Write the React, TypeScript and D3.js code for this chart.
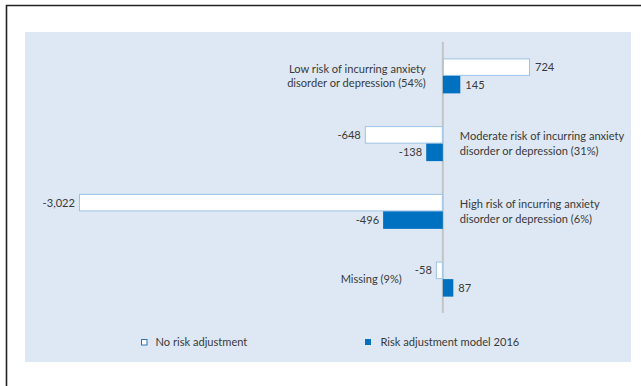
import React from "react";
import * as d3 from "d3";

const categories = ["low", "moderate", "high", "missing"];
const categoryLabels = [
  ["Low risk of incurring anxiety", "disorder or depression (54%)"],
  ["Moderate risk of incurring anxiety", "disorder or depression (31%)"],
  ["High risk of incurring anxiety", "disorder or depression (6%)"],
  ["Missing (9%)"],
];
const seriesNames = ["No risk adjustment", "Risk adjustment model 2016"];
const noAdjustment = [724, -648, -3022, -58];
const model2016 = [145, -138, -496, 87];

const W = 641;
const H = 386;
const FONT = "Lato, 'Liberation Sans', sans-serif";
const TEXT = "#3a3a3a";
const BLUE = "#0070c0";
const LIGHT = "#9dc3e6";
const FS = 11.1;

export default function App() {
  const x = d3.scaleLinear().domain([-3022, 724]).range([79, 530]);
  const y = d3.scaleBand<string>().domain(categories).range([42, 313]);
  const inner = d3
    .scaleBand<string>()
    .domain(seriesNames)
    .range([0, y.bandwidth()])
    .paddingInner(0)
    .paddingOuter(0.936);
  const fmt = (v: number) => d3.format(",")(v).replace("\u2212", "-");
  const x0 = x(0);
  const series = [noAdjustment, model2016];

  return (
    <svg
      width={W}
      height={H}
      style={{ position: "absolute", left: 0, top: 0, background: "#fff" }}
      fontFamily={FONT}
    >
      <line x1={6.5} y1={5} x2={6.5} y2={H} stroke="#222" strokeWidth={1.6} />
      <line x1={6} y1={5.5} x2={W} y2={5.5} stroke="#222" strokeWidth={1.6} />
      <rect x={25} y={32} width={606} height={330} fill="#dde8f4" />
      <line x1={x0} y1={42} x2={x0} y2={313} stroke="#c4c4c4" strokeWidth={2} />
      {categories.map((c, i) => (
        <g key={c}>
          {series.map((vals, s) => {
            const v = vals[i];
            const by = (y(c) as number) + (inner(seriesNames[s]) as number);
            const bh = inner.bandwidth();
            const bx = Math.min(x(v), x0);
            const bw = Math.abs(x(v) - x0);
            return (
              <g key={s}>
                <rect
                  x={bx + (s === 0 ? 0.5 : 0)}
                  y={by + (s === 0 ? 0.5 : 0)}
                  width={Math.max(bw - (s === 0 ? 1 : 0), 0)}
                  height={bh - (s === 0 ? 1 : 0)}
                  fill={s === 0 ? "#fff" : BLUE}
                  stroke={s === 0 ? LIGHT : "none"}
                  strokeWidth={1}
                />
                <text
                  x={v >= 0 ? x(v) + 5 : x(v) - 4}
                  y={by + bh / 2}
                  dy="0.35em"
                  textAnchor={v >= 0 ? "start" : "end"}
                  fontSize={FS}
                  fill={TEXT}
                >
                  {fmt(v)}
                </text>
              </g>
            );
          })}
          {(() => {
            const labelLeft = noAdjustment[i] > 0 || model2016[i] > 0;
            const cy = (y(c) as number) + y.bandwidth() / 2;
            const lines = categoryLabels[i];
            const lh = 14.5;
            const lx = labelLeft
              ? noAdjustment[i] < 0
                ? x0 - 41
                : x0 - 17
              : x0 + 17;
            return (
              <text
                textAnchor={labelLeft ? "end" : "start"}
                fontSize={FS}
                fill={TEXT}
              >
                {lines.map((l, k) => (
                  <tspan
                    key={k}
                    x={lx}
                    y={cy + (k - (lines.length - 1) / 2) * lh}
                    dy="0.35em"
                  >
                    {l}
                  </tspan>
                ))}
              </text>
            );
          })()}
        </g>
      ))}
      <g>
        <rect x={141.5} y={339.5} width={5.5} height={5.5} fill="#fff" stroke="#2e75b6" strokeWidth={1} />
        <text x={155.5} y={342.5} dy="0.35em" fontSize={FS} fill={TEXT}>
          {seriesNames[0]}
        </text>
        <rect x={365} y={339} width={6} height={6} fill={BLUE} />
        <text x={380.5} y={342.5} dy="0.35em" fontSize={FS} fill={TEXT}>
          {seriesNames[1]}
        </text>
      </g>
    </svg>
  );
}
